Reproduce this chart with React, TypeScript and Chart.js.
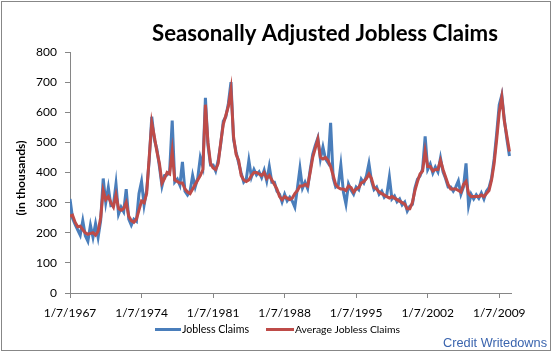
import React, { useEffect, useRef } from "react";
import { Chart, registerables } from "chart.js";

Chart.register(...registerables);

// ---- data (quarterly samples, in thousands) ----
const START_YEAR = 1967;
const STEP_YEARS = 0.25;
const X_MAX_YEAR = 2010.15;

const seriesNames = ["Jobless Claims", "Average Jobless Claims"];
const titleText = "Seasonally Adjusted Jobless Claims";
const yAxisTitle = "(in thousands)";
const creditText = "Credit Writedowns";

const tickYears = [1967, 1974, 1981, 1988, 1995, 2002, 2009];
const tickLabels = ["1/7/1967", "1/7/1974", "1/7/1981", "1/7/1988", "1/7/1995", "1/7/2002", "1/7/2009"];
const yTicks = [0, 100, 200, 300, 400, 500, 600, 700, 800];

const claims = [
  312, 248, 228, 210, // 1967
  192, 240, 190, 172, // 1968
  225, 185, 230, 185, // 1969
  240, 380, 300, 350, // 1970
  290, 292, 362, 262, // 1971
  285, 270, 345, 245, // 1972
  225, 245, 238, 330, // 1973
  370, 292, 340, 440, // 1974
  585, 510, 478, 420, // 1975
  355, 390, 392, 405, // 1976
  572, 368, 378, 358, // 1977
  435, 338, 325, 338, // 1978
  390, 352, 382, 450, // 1979
  420, 648, 490, 425, // 1980
  425, 405, 440, 495, // 1981
  570, 585, 630, 700, // 1982
  510, 468, 432, 398, // 1983
  368, 378, 440, 385, // 1984
  410, 392, 402, 383, // 1985
  408, 372, 420, 368, // 1986
  368, 338, 328, 302, // 1987
  328, 306, 318, 305, // 1988
  285, 348, 414, 348, // 1989
  368, 347, 408, 460, // 1990
  490, 515, 445, 485, // 1991
  445, 432, 565, 382, // 1992
  352, 358, 425, 335, // 1993
  295, 362, 342, 328, // 1994
  352, 343, 378, 365, // 1995
  388, 430, 372, 343, // 1996
  352, 328, 338, 318, // 1997
  327, 385, 312, 322, // 1998
  303, 312, 292, 302, // 1999
  272, 288, 294, 348, // 2000
  378, 388, 412, 520, // 2001
  410, 428, 398, 418, // 2002
  402, 448, 402, 380, // 2003
  352, 352, 338, 352, // 2004
  372, 328, 352, 430, // 2005
  290, 328, 312, 326, // 2006
  314, 332, 312, 338, // 2007
  350, 382, 445, 530, // 2008
  625, 657, 575, 510, // 2009
  455, // 2010
];

const avgClaims = [
  255, 258, 235, 220, // 1967
  222, 210, 200, 195, // 1968
  198, 200, 192, 205, // 1969
  250, 340, 310, 320, // 1970
  300, 285, 325, 280, // 1971
  275, 280, 300, 255, // 1972
  240, 235, 245, 275, // 1973
  305, 300, 330, 450, // 1974
  565, 520, 470, 430, // 1975
  365, 380, 400, 395, // 1976
  470, 375, 370, 365, // 1977
  365, 345, 335, 330, // 1978
  345, 360, 375, 390, // 1979
  410, 625, 500, 430, // 1980
  415, 410, 430, 500, // 1981
  560, 590, 620, 675, // 1982
  520, 460, 440, 390, // 1983
  375, 370, 375, 390, // 1984
  400, 400, 395, 390, // 1985
  400, 380, 390, 375, // 1986
  360, 345, 320, 310, // 1987
  320, 315, 310, 315, // 1988
  330, 340, 355, 355, // 1989
  360, 355, 400, 450, // 1990
  480, 510, 450, 445, // 1991
  450, 440, 420, 390, // 1992
  360, 350, 345, 345, // 1993
  340, 355, 350, 335, // 1994
  345, 350, 365, 370, // 1995
  380, 395, 380, 350, // 1996
  345, 335, 330, 325, // 1997
  320, 315, 320, 315, // 1998
  310, 305, 300, 295, // 1999
  280, 280, 300, 340, // 2000
  370, 395, 405, 470, // 2001
  420, 420, 405, 410, // 2002
  410, 440, 410, 385, // 2003
  360, 345, 345, 345, // 2004
  340, 335, 360, 370, // 2005
  330, 320, 320, 320, // 2006
  320, 325, 320, 330, // 2007
  340, 375, 430, 510, // 2008
  600, 650, 570, 520, // 2009
  470, // 2010
];

const BLUE = "#4A7EBB";
const RED = "#BE4B48";
const AXIS = "#868686";

const toPoints = (vals: number[]) =>
  vals.map((v, i) => ({ x: START_YEAR + i * STEP_YEARS, y: v }));

const fitFont = (ctx: CanvasRenderingContext2D, text: string, weight: string, family: string, width: number) => {
  ctx.font = `${weight} 20px ${family}`;
  const w = ctx.measureText(text).width;
  ctx.font = `${weight} ${((20 * width) / w).toFixed(2)}px ${family}`;
};

const decorPlugin = {
  id: "decor",
  afterDraw(chart: any) {
    const ctx: CanvasRenderingContext2D = chart.ctx;
    ctx.save();
    // outer border
    ctx.strokeStyle = "#878787";
    ctx.lineWidth = 1;
    ctx.strokeRect(1.5, 1.5, 549, 349);

    // title
    ctx.fillStyle = "#000";
    ctx.textAlign = "center";
    ctx.textBaseline = "alphabetic";
    fitFont(ctx, titleText, "bold", "Lato", 346);
    ctx.fillText(titleText, 325, 40.5);

    // y-axis title
    ctx.save();
    ctx.translate(21, 178);
    ctx.rotate(-Math.PI / 2);
    fitFont(ctx, yAxisTitle, "bold", "Lato", 75);
    ctx.textAlign = "center";
    ctx.textBaseline = "middle";
    ctx.fillText(yAxisTitle, 0, 0);
    ctx.restore();

    // legend
    const ly = 329.5;
    ctx.lineWidth = 3;
    ctx.lineCap = "butt";
    ctx.strokeStyle = BLUE;
    ctx.beginPath();
    ctx.moveTo(155, ly);
    ctx.lineTo(181, ly);
    ctx.stroke();
    ctx.strokeStyle = RED;
    ctx.beginPath();
    ctx.moveTo(266, ly);
    ctx.lineTo(294, ly);
    ctx.stroke();
    ctx.textAlign = "left";
    ctx.textBaseline = "middle";
    ctx.fillStyle = "#000";
    fitFont(ctx, seriesNames[0], "normal", "Lato", 67);
    ctx.fillText(seriesNames[0], 182, ly);
    fitFont(ctx, seriesNames[1], "normal", "Lato", 105);
    ctx.fillText(seriesNames[1], 295, ly);

    // credit
    fitFont(ctx, creditText, "normal", "'Liberation Sans'", 104);
    ctx.fillStyle = "#3A64AE";
    ctx.textAlign = "right";
    ctx.textBaseline = "alphabetic";
    ctx.fillText(creditText, 547, 346.5);
    ctx.restore();
  },
};

export default function App() {
  const ref = useRef<HTMLCanvasElement | null>(null);
  useEffect(() => {
    if (!ref.current) return;
    const chart = new Chart(ref.current, {
      type: "line",
      data: {
        datasets: [
          {
            label: seriesNames[0],
            data: toPoints(claims),
            borderColor: BLUE,
            backgroundColor: BLUE,
            borderWidth: 3,
            pointRadius: 0,
            tension: 0,
            order: 2,
          },
          {
            label: seriesNames[1],
            data: toPoints(avgClaims),
            borderColor: RED,
            backgroundColor: RED,
            borderWidth: 3,
            pointRadius: 0,
            tension: 0,
            order: 1,
          },
        ],
      },
      options: {
        responsive: false,
        animation: false,
        devicePixelRatio: 1,
        layout: { padding: { left: 0, right: 41, top: 52, bottom: 0 } },
        plugins: {
          legend: { display: false },
          title: { display: false },
          tooltip: { enabled: false },
        },
        scales: {
          x: {
            type: "linear",
            min: START_YEAR,
            max: X_MAX_YEAR,
            afterFit: (s: any) => {
              s.height = 58;
            },
            afterBuildTicks: (s: any) => {
              s.ticks = tickYears.map((v) => ({ value: v }));
            },
            ticks: {
              callback: (v: any) => tickLabels[tickYears.indexOf(Number(v))] ?? "",
              font: { family: "Lato", size: 12 },
              color: "#000",
              padding: 8,
              maxRotation: 0,
              autoSkip: false,
            },
            grid: {
              drawOnChartArea: false,
              drawTicks: true,
              tickLength: 5,
              color: AXIS,
            },
            border: { display: true, color: AXIS, width: 1 },
          },
          y: {
            type: "linear",
            min: 0,
            max: 800,
            afterFit: (s: any) => {
              s.width = 70;
            },
            afterBuildTicks: (s: any) => {
              s.ticks = yTicks.map((v) => ({ value: v }));
            },
            ticks: {
              font: { family: "Lato", size: 12 },
              color: "#000",
              padding: 8,
            },
            grid: {
              drawOnChartArea: false,
              drawTicks: true,
              tickLength: 5,
              color: AXIS,
            },
            border: { display: true, color: AXIS, width: 1 },
          },
        },
      },
      plugins: [decorPlugin],
    });
    return () => chart.destroy();
  }, []);
  return (
    <div style={{ position: "absolute", left: 0, top: 0, width: 552, height: 351, background: "#fff" }}>
      <canvas ref={ref} width={552} height={351} style={{ display: "block" }} />
    </div>
  );
}
